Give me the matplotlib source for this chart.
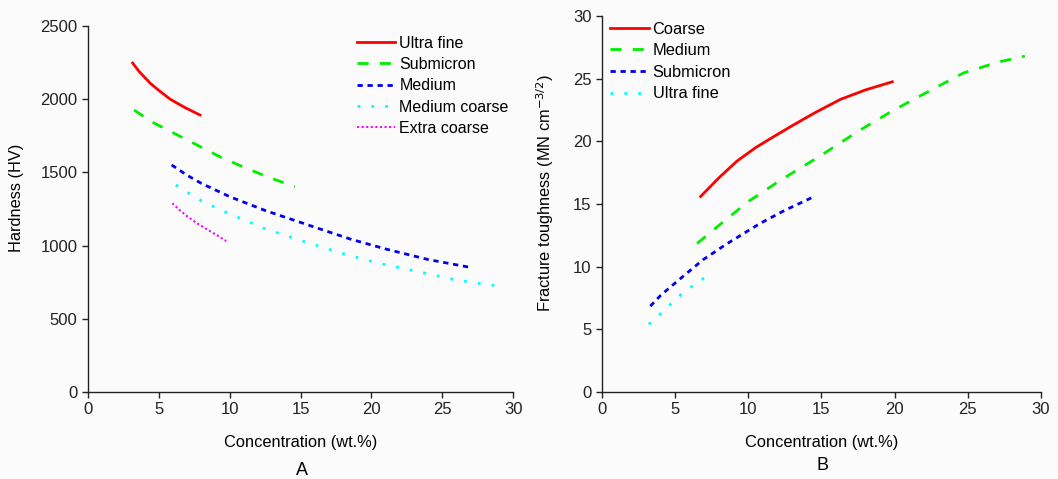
import matplotlib
matplotlib.use("Agg")
import matplotlib.pyplot as plt

plt.rcParams['font.family'] = ['Liberation Sans', 'DejaVu Sans']

# Panel A: hardness vs binder concentration
a_ultra_x = [3.15, 3.6, 4.4, 5.0, 5.8, 6.8, 7.9]
a_ultra_y = [2247, 2190, 2108, 2060, 2000, 1945, 1892]
a_sub_x = [3.25, 4.5, 6.3, 8.0, 9.3, 11.0, 12.8, 14.6]
a_sub_y = [1926, 1845, 1756, 1672, 1607, 1535, 1465, 1402]
a_med_x = [5.9, 7.0, 8.0, 10.0, 12.5, 15.9, 18.5, 21.0, 24.0, 27.1]
a_med_y = [1551, 1480, 1425, 1334, 1240, 1129, 1045, 977, 905, 849]
a_medc_x = [6.2, 8.0, 9.8, 12.5, 15.5, 18.0, 20.5, 23.3, 26.0, 29.3]
a_medc_y = [1414, 1305, 1225, 1115, 1020, 945, 880, 822, 765, 719]
a_xc_x = [5.95, 6.5, 7.0, 7.7, 8.5, 9.2, 9.75]
a_xc_y = [1289, 1240, 1200, 1152, 1105, 1065, 1031]

# Panel B: fracture toughness vs binder concentration
b_coarse_x = [6.74, 8.0, 9.2, 10.5, 11.7, 13.0, 14.5, 16.3, 18.0, 19.84]
b_coarse_y = [15.6, 17.1, 18.4, 19.5, 20.35, 21.25, 22.25, 23.35, 24.1, 24.75]
b_med_x = [6.5, 8.0, 10.0, 12.2, 15.0, 17.5, 19.8, 22.5, 24.7, 27.0, 28.9]
b_med_y = [11.85, 13.3, 15.2, 16.9, 18.9, 20.8, 22.4, 24.1, 25.45, 26.3, 26.8]
b_sub_x = [3.3, 4.0, 5.0, 6.9, 8.5, 10.8, 12.5, 14.6]
b_sub_y = [6.85, 7.7, 8.7, 10.55, 11.8, 13.45, 14.5, 15.65]
b_ultra_x = [3.2, 4.0, 5.45, 6.4, 7.3]
b_ultra_y = [5.4, 6.25, 7.85, 8.65, 9.35]

xticks = [0, 5, 10, 15, 20, 25, 30]
a_yticks = [0, 500, 1000, 1500, 2000, 2500]
b_yticks = [0, 5, 10, 15, 20, 25, 30]

fig = plt.figure(figsize=(10.58, 4.79), dpi=100)
fig.patch.set_facecolor('#fbfbfb')

axA = fig.add_axes([0.0832, 0.1816, 0.4018, 0.7641])
axB = fig.add_axes([0.5690, 0.1816, 0.4149, 0.7850])

sol = dict(color='#ff0000', lw=2.0, linestyle='-')
gdash = dict(color='#00ee00', lw=2.0, linestyle=(0, (4.0, 4.0)))
bdash = dict(color='#0000ee', lw=2.0, linestyle=(0, (1.9, 1.7)))
cdot = dict(color='#00ffff', lw=2.0, linestyle=(0, (1.0, 4.0)))
mdot = dict(color='#ff00ff', lw=1.5, linestyle=(0, (1.0, 1.2)))

axA.plot(a_ultra_x, a_ultra_y, label='Ultra fine', **sol)
axA.plot(a_sub_x, a_sub_y, label='Submicron', **gdash)
axA.plot(a_med_x, a_med_y, label='Medium', **bdash)
axA.plot(a_medc_x, a_medc_y, label='Medium coarse', **cdot)
axA.plot(a_xc_x, a_xc_y, label='Extra coarse', **mdot)

axB.plot(b_coarse_x, b_coarse_y, label='Coarse', **sol)
axB.plot(b_med_x, b_med_y, label='Medium', **gdash)
axB.plot(b_sub_x, b_sub_y, label='Submicron', **bdash)
axB.plot(b_ultra_x, b_ultra_y, label='Ultra fine', **cdot)

for ax in (axA, axB):
    ax.set_facecolor('none')
    ax.set_xlim(0, 30)
    ax.set_xticks(xticks)
    for s in ('top', 'right'):
        ax.spines[s].set_visible(False)
    for s in ('left', 'bottom'):
        ax.spines[s].set_linewidth(1.0)
        ax.spines[s].set_color('#222222')
    ax.tick_params(direction='out', length=4, width=1.0, labelsize=12, colors='#222222')
    ax.set_xlabel('Concentration (wt.%)', fontsize=11.8, labelpad=13)

axA.set_ylim(0, 2500)
axA.set_yticks(a_yticks)
axA.set_ylabel('Hardness (HV)', fontsize=11.8)
axA.yaxis.set_label_coords(-0.151, 0.531)
axB.set_ylim(0, 30)
axB.set_yticks(b_yticks)
axB.set_ylabel('Fracture toughness (MN cm$^{-3/2}$)', fontsize=11.8)
axB.yaxis.set_label_coords(-0.105, 0.530)

axA.legend(loc='upper left', bbox_to_anchor=(0.633, 0.974), frameon=False, fontsize=11.5,
           handlelength=2.4, handletextpad=0.25, labelspacing=0.4,
           borderaxespad=0.0, borderpad=0.0)
axB.legend(loc='upper left', bbox_to_anchor=(0.018, 0.985), frameon=False, fontsize=11.8,
           handlelength=2.4, handletextpad=0.2, labelspacing=0.4,
           borderaxespad=0.0, borderpad=0.0)

fig.text(0.285, 0.018, 'A', fontsize=13, ha='center', va='center')
fig.text(0.777, 0.028, 'B', fontsize=13, ha='center', va='center')

fig.savefig('out.png', dpi=100, facecolor=fig.get_facecolor())
